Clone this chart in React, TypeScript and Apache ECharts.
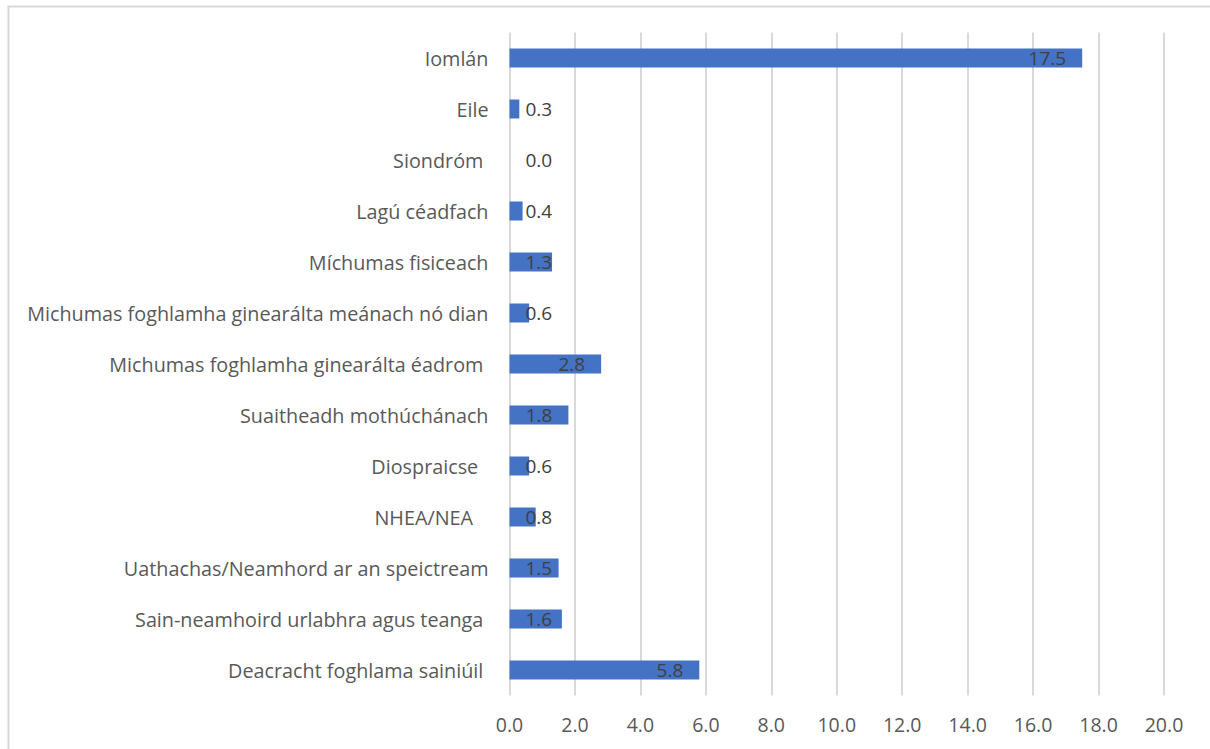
import React, { useEffect, useRef } from "react";
import * as echarts from "echarts";

const categories: string[] = [
  "Deacracht foghlama sainiúil ",
  "Sain-neamhoird urlabhra agus teanga ",
  "Uathachas/Neamhord ar an speictream",
  "NHEA/NEA   ",
  "Diospraicse  ",
  "Suaitheadh mothúchánach",
  "Michumas foghlamha ginearálta éadrom ",
  "Michumas foghlamha ginearálta meánach nó dian",
  "Míchumas fisiceach",
  "Lagú céadfach",
  "Siondróm ",
  "Eile",
  "Iomlán",
];

const values: number[] = [5.8, 1.6, 1.5, 0.8, 0.6, 1.8, 2.8, 0.6, 1.3, 0.4, 0.0, 0.3, 17.5];

const xTicks = { min: 0, max: 20, interval: 2 };

export default function App() {
  const ref = useRef<HTMLDivElement>(null);

  useEffect(() => {
    if (!ref.current) return;
    const chart = echarts.init(ref.current, undefined, { renderer: "svg" });
    const font = "'Open Sans', sans-serif";
    const data = values.map((v) => {
      const inside = v >= 1.8;
      return {
        value: v,
        label: inside
          ? { position: "insideRight", distance: 16 }
          : { position: [16, "50%"], align: "left", verticalAlign: "middle" },
      };
    });
    chart.setOption({
      animation: false,
      backgroundColor: "#ffffff",
      textStyle: { fontFamily: font },
      graphic: [
        {
          type: "rect",
          shape: { x: 8.5, y: 6.5, width: 1300, height: 900 },
          style: { fill: "none", stroke: "#d9d9d9", lineWidth: 2 },
          silent: true,
        },
      ],
      grid: { left: 509.5, right: 46, top: 32.5, bottom: 53.5, containLabel: false },
      xAxis: {
        type: "value",
        min: xTicks.min,
        max: xTicks.max,
        interval: xTicks.interval,
        axisLine: { show: false },
        axisTick: { show: false },
        splitLine: { show: true, lineStyle: { color: "#d9d9d9", width: 2 } },
        axisLabel: {
          color: "#595959",
          fontSize: 19.5,
          fontFamily: font,
          margin: 19,
          formatter: (v: number) => v.toFixed(1),
        },
      },
      yAxis: {
        type: "category",
        data: categories,
        axisLine: { show: false },
        axisTick: { show: false },
        axisLabel: { color: "#595959", fontSize: 19.8, fontFamily: font, margin: 21 },
      },
      series: [
        {
          type: "bar",
          data,
          barWidth: 19,
          itemStyle: { color: "#4472C4" },
          label: {
            show: true,
            color: "#404040",
            fontSize: 19,
            fontFamily: font,
            formatter: (p: any) => Number(p.value).toFixed(1),
          },
        },
      ],
    });
    return () => chart.dispose();
  }, []);

  return (
    <div
      ref={ref}
      style={{ position: "fixed", left: 0, top: 0, width: 1210, height: 749 }}
    />
  );
}
